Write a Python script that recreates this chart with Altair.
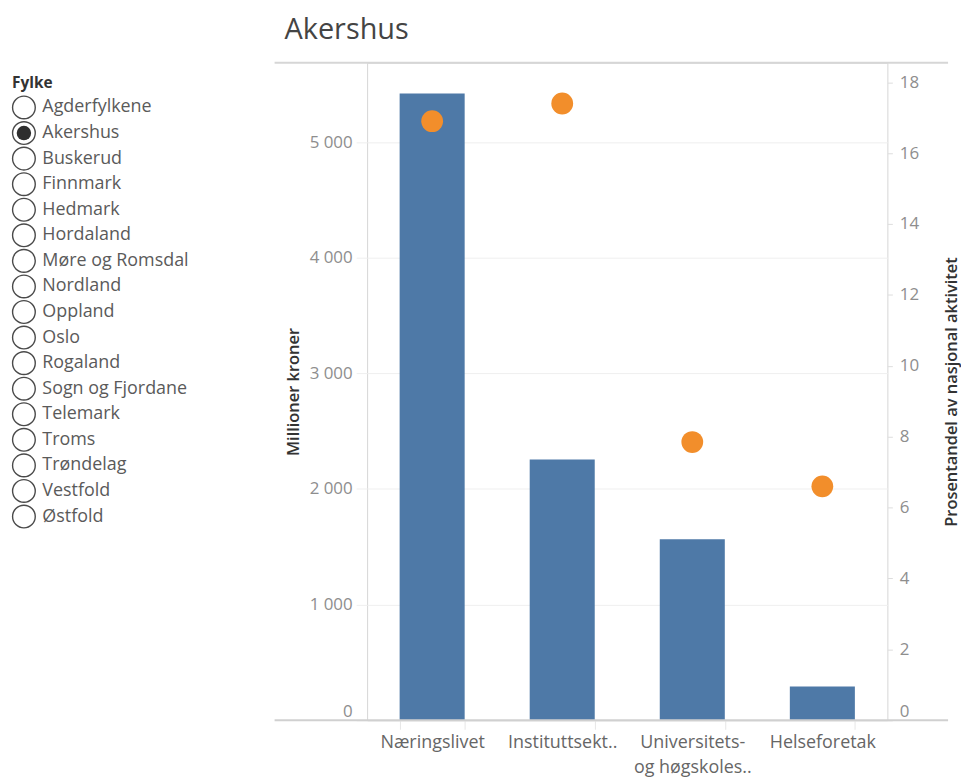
import altair as alt
import pandas as pd

# ---------- data ----------
fylker = ["Agderfylkene", "Akershus", "Buskerud", "Finnmark", "Hedmark", "Hordaland",
          "Møre og Romsdal", "Nordland", "Oppland", "Oslo", "Rogaland", "Sogn og Fjordane",
          "Telemark", "Troms", "Trøndelag", "Vestfold", "Østfold"]
valgt_fylke = "Akershus"

sektorer = ["Næringslivet", "Instituttsekt..", "Universitets-|og høgskoles..", "Helseforetak"]
millioner_kroner = [5420, 2255, 1565, 292]
prosentandel = [16.9, 17.4, 7.85, 6.6]

left_ticks = [0, 1000, 2000, 3000, 4000, 5000]
right_ticks = [0, 2, 4, 6, 8, 10, 12, 14, 16, 18]

FONT = "Open Sans"
H = 661
W = 523

list_df = pd.DataFrame({
    "fylke": fylker,
    "idx": list(range(len(fylker))),
    "valgt": [f == valgt_fylke for f in fylker],
})
main_df = pd.DataFrame({"sektor": sektorer, "mill": millioner_kroner, "pst": prosentandel})

# ---------- left radio list ----------
ylist = alt.Y("idx:Q", scale=alt.Scale(domain=[-1.75, 23.97], reverse=True, nice=False, zero=False),
              axis=None)
base_list = alt.Chart(list_df)
rings = base_list.mark_circle(size=520, color="white", stroke="#4a4a4a", strokeWidth=1.4,
                              opacity=1).encode(x=alt.value(16), y=ylist)
dots = base_list.transform_filter(alt.datum.valgt).mark_circle(
    size=210, color="#2e2e2e", opacity=1).encode(x=alt.value(16), y=ylist)
names = base_list.mark_text(align="left", baseline="middle", font=FONT, fontSize=18,
                            color="#5a5a5a").encode(x=alt.value(34.5), y=ylist, text="fylke:N")
header = alt.Chart(pd.DataFrame({"t": ["Fylke"]})).mark_text(
    align="left", baseline="middle", font=FONT, fontSize=15.5, fontWeight="bold",
    color="#333333").encode(x=alt.value(4), y=alt.value(20), text="t:N")
left = alt.layer(rings, dots, names, header).properties(width=200, height=H)

# ---------- main dual-axis chart ----------
xenc = alt.X("sektor:N", sort=sektorer,
             scale=alt.Scale(paddingInner=0.5, paddingOuter=0.25),
             axis=alt.Axis(title=None, labelAngle=0, labelExpr="split(datum.label, '|')",
                           labelFont=FONT, labelFontSize=18, labelColor="#666666",
                           labelPadding=4, labelLineHeight=25, domain=False,
                           ticks=True, tickBand="extent", tickColor="#e6e6e6", tickSize=9))

bars = alt.Chart(main_df).mark_bar(color="#4E79A7").encode(
    x=xenc,
    y=alt.Y("mill:Q", scale=alt.Scale(domain=[0, 5686], nice=False),
            axis=alt.Axis(title="Millioner kroner", values=left_ticks,
                          labelExpr="replace(format(datum.value, ','), ',', ' ')",
                          labelFont=FONT, labelFontSize=17, labelColor="#8e8e8e",
                          labelPadding=4, labelFlush=True, labelFlushOffset=0,
                          grid=True, gridColor="#efefef", ticks=True, tickColor="#efefef",
                          tickSize=11, domain=False,
                          titleFont=FONT, titleFontSize=16.5, titleFontWeight=600,
                          titleColor="#333333", titlePadding=8)),
)

points = alt.Chart(main_df).mark_circle(size=480, color="#F28E2B", opacity=1).encode(
    x=alt.X("sektor:N", sort=sektorer),
    y=alt.Y("pst:Q", scale=alt.Scale(domain=[0, 18.55], nice=False),
            axis=alt.Axis(orient="right", title="Prosentandel av nasjonal aktivitet",
                          values=right_ticks, labelFont=FONT, labelFontSize=17,
                          labelColor="#8e8e8e", labelPadding=7, labelFlush=True,
                          labelFlushOffset=0, grid=False, ticks=True, tickColor="#dddddd",
                          tickSize=5, domain=False,
                          titleFont=FONT, titleFontSize=16.5, titleFontWeight=600,
                          titleColor="#333333", titleAngle=270, titlePadding=41)),
)

frame = alt.Chart(pd.DataFrame({"k": [0]}))
top_rule = frame.mark_rule(color="#d6d6d6", strokeWidth=2).encode(
    x=alt.value(-93), x2=alt.value(584), y=alt.value(0))
bottom_rule = frame.mark_rule(color="#d0d0d0", strokeWidth=2).encode(
    x=alt.value(-93), x2=alt.value(584), y=alt.value(H))

main = alt.layer(bars, points, top_rule, bottom_rule).resolve_scale(y="independent").properties(
    width=W, height=H, view=alt.ViewBackground(stroke="#d6d6d6", strokeWidth=1))

chart = alt.hconcat(left, main, spacing=66).properties(
    title=alt.TitleParams("Akershus", anchor="start", dx=278, font=FONT, fontSize=29,
                          fontWeight="normal", color="#444444", offset=16),
    padding={"left": 0, "top": 6, "right": 0, "bottom": 0},
).configure_view(stroke=None).configure_concat(spacing=66)

chart.save("out.html", embed_options={"renderer": "svg", "actions": False})
